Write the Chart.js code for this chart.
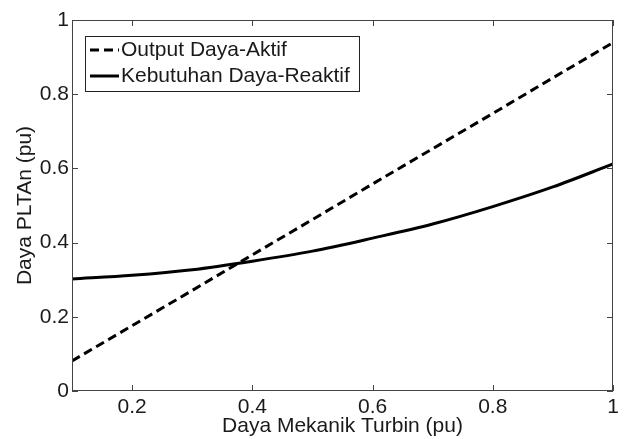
<!DOCTYPE html>
<html lang="id">
<head>
  <meta charset="UTF-8">
  <title>Daya PLTAn</title>
  <script src="https://cdn.jsdelivr.net/npm/chart.js"></script>
  <style>
    body { margin: 0; background: #fff; }
  </style>
</head>
<body>
  <canvas id="chart" width="624" height="439"></canvas>

  <script>
    // data
    const dayaMekanik = [0.1, 0.2, 0.3, 0.4, 0.5, 0.6, 0.7, 0.8, 0.9, 1.0];
    const outputAktif = [0.081, 0.176, 0.271, 0.367, 0.462, 0.558, 0.653, 0.748, 0.844, 0.939];
    const kebutuhanReaktif = [0.302, 0.312, 0.327, 0.350, 0.377, 0.412, 0.450, 0.497, 0.550, 0.612];
    const seriesLabels = ['Output Daya-Aktif', 'Kebutuhan Daya-Reaktif'];
    const xTicks = [0.2, 0.4, 0.6, 0.8, 1];
    const yTicks = [0, 0.2, 0.4, 0.6, 0.8, 1];

    const FONT = 'Liberation Sans, Arial, sans-serif';
    const TEXT = '#1a1a1a';
    const AXIS = '#444';

    const toPoints = ys => dayaMekanik.map((x, i) => ({ x: x, y: ys[i] }));

    // matlab style box with inward ticks on all four sides
    const framePlugin = {
      id: 'frame',
      afterDatasetsDraw(chart) {
        const { ctx, chartArea: a, scales: { x, y } } = chart;
        const len = 6;
        ctx.save();
        ctx.strokeStyle = AXIS;
        ctx.lineWidth = 1;
        ctx.beginPath();
        x.ticks.forEach(t => {
          const px = Math.round(x.getPixelForValue(t.value)) + 0.5;
          ctx.moveTo(px, a.bottom); ctx.lineTo(px, a.bottom - len);
          ctx.moveTo(px, a.top); ctx.lineTo(px, a.top + len);
        });
        y.ticks.forEach(t => {
          const py = Math.round(y.getPixelForValue(t.value)) + 0.5;
          ctx.moveTo(a.left, py); ctx.lineTo(a.left + len, py);
          ctx.moveTo(a.right, py); ctx.lineTo(a.right - len, py);
        });
        ctx.stroke();
        ctx.strokeRect(Math.round(a.left) + 0.5, Math.round(a.top) + 0.5,
          Math.round(a.width) - 1, Math.round(a.height) - 1);
        ctx.restore();
      }
    };

    // legend box inside the upper left corner
    const boxLegend = {
      id: 'boxLegend',
      afterDraw(chart) {
        const { ctx, chartArea: a } = chart;
        const left = a.left + 13, top = a.top + 16;
        const w = 274, rowH = 26;
        const sets = chart.data.datasets;
        ctx.save();
        ctx.fillStyle = '#fff';
        ctx.fillRect(left, top, w, rowH * sets.length + 3);
        ctx.strokeStyle = '#222';
        ctx.lineWidth = 1;
        ctx.strokeRect(left + 0.5, top + 0.5, w, rowH * sets.length + 3);
        ctx.font = '21px ' + FONT;
        ctx.textBaseline = 'middle';
        sets.forEach((ds, i) => {
          const cy = top + 14 + i * rowH;
          ctx.strokeStyle = ds.borderColor;
          ctx.lineWidth = ds.borderWidth;
          ctx.setLineDash(ds.borderDash || []);
          ctx.beginPath();
          ctx.moveTo(left + 5, cy);
          ctx.lineTo(left + 34, cy);
          ctx.stroke();
          ctx.setLineDash([]);
          ctx.fillStyle = TEXT;
          ctx.fillText(ds.label, left + 36, cy);
        });
        ctx.restore();
      }
    };

    new Chart(document.getElementById('chart'), {
      type: 'line',
      data: {
        datasets: [
          {
            label: seriesLabels[0],
            data: toPoints(outputAktif),
            borderColor: '#000',
            borderWidth: 3,
            borderDash: [9, 5],
            pointRadius: 0,
            fill: false
          },
          {
            label: seriesLabels[1],
            data: toPoints(kebutuhanReaktif),
            borderColor: '#000',
            borderWidth: 3,
            cubicInterpolationMode: 'monotone',
            pointRadius: 0,
            fill: false
          }
        ]
      },
      options: {
        responsive: false,
        animation: false,
        layout: { padding: { top: 20, right: 11, bottom: 0, left: 0 } },
        plugins: {
          legend: { display: false },
          tooltip: { enabled: false }
        },
        scales: {
          x: {
            type: 'linear',
            min: 0.1,
            max: 1,
            afterBuildTicks: s => { s.ticks = xTicks.map(v => ({ value: v })); },
            afterFit: s => { s.height = 48; },
            grid: { display: false, drawTicks: false },
            border: { display: false },
            ticks: {
              color: TEXT,
              font: { family: FONT, size: 21 },
              padding: 4,
              maxRotation: 0,
              callback: v => String(v)
            },
            title: {
              display: true,
              text: 'Daya Mekanik Turbin (pu)',
              color: TEXT,
              font: { family: FONT, size: 21 },
              padding: { top: 0, bottom: 0 }
            }
          },
          y: {
            type: 'linear',
            min: 0,
            max: 1,
            afterBuildTicks: s => { s.ticks = yTicks.map(v => ({ value: v })); },
            afterFit: s => { s.width = 72; },
            grid: { display: false, drawTicks: false },
            border: { display: false },
            ticks: {
              color: TEXT,
              font: { family: FONT, size: 21 },
              padding: 3,
              callback: v => String(v)
            },
            title: {
              display: true,
              text: 'Daya PLTAn (pu)',
              color: TEXT,
              font: { family: FONT, size: 21 },
              padding: { top: 13, bottom: 0 }
            }
          }
        }
      },
      plugins: [framePlugin, boxLegend]
    });
  </script>
</body>
</html>
